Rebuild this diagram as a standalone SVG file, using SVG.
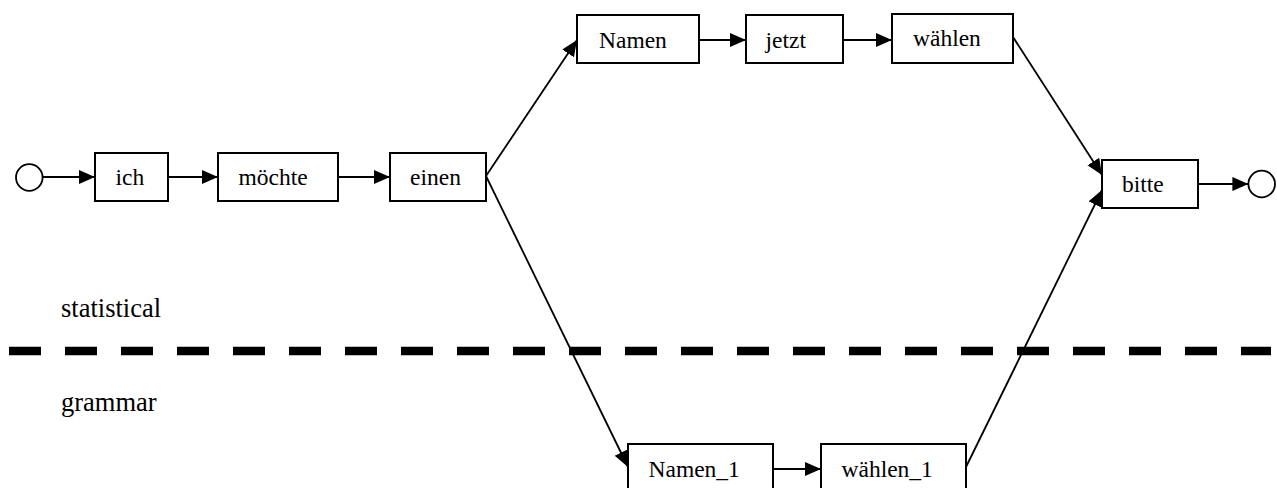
<svg xmlns="http://www.w3.org/2000/svg" width="1277" height="488" viewBox="0 0 1277 488">
  <style>
    .box { fill: #ffffff; stroke: #000000; stroke-width: 2; }
    .lbl { font-family: "Liberation Serif", "Times New Roman", serif; font-size: 23.5px; fill: #000000; }
    .side { font-family: "Liberation Serif", "Times New Roman", serif; font-size: 26.5px; fill: #000000; }
    .edge { fill: none; stroke: #000000; stroke-width: 1.8; marker-end: url(#arrow); }
    .term { fill: #ffffff; stroke: #000000; stroke-width: 1.8; }
  </style>
  <defs>
    <marker id="arrow" markerUnits="userSpaceOnUse" markerWidth="18" markerHeight="16" refX="16" refY="7" orient="auto">
      <path d="M0,0 L16,7 L0,14 z" fill="#000000"/>
    </marker>
  </defs>
  <rect width="1277" height="488" fill="#ffffff"/>

  <!-- separator between the two sources -->
  <line x1="9" y1="351" x2="1271" y2="351" stroke="#000000" stroke-width="8.5" stroke-dasharray="32 24"/>
  <text class="side" x="61" y="317">statistical</text>
  <text class="side" x="61" y="411">grammar</text>

  <g id="connectors">
    <path class="edge" d="M42.7,177 L95,177"/>
    <path class="edge" d="M168,177 L218,177"/>
    <path class="edge" d="M338,177 L390,177"/>
    <path class="edge" d="M486,176 L577,40"/>
    <path class="edge" d="M486,176 L628,467"/>
    <path class="edge" d="M699,40 L746,40"/>
    <path class="edge" d="M843,40 L892,40"/>
    <path class="edge" d="M1013,37 L1102,175"/>
    <path class="edge" d="M773,469 L821,469"/>
    <path class="edge" d="M966,467 L1102,190"/>
    <path class="edge" d="M1198,184 L1248.4,184"/>
  </g>

  <g id="start"><circle class="term" cx="29.3" cy="177.5" r="13.3"/></g>
  <g id="end"><circle class="term" cx="1261.7" cy="184" r="13.3"/></g>

  <g id="n-ich"><rect class="box" x="95" y="153" width="73" height="48"/><text class="lbl" x="115.5" y="185">ich</text></g>
  <g id="n-moechte"><rect class="box" x="218" y="153" width="120" height="48"/><text class="lbl" x="238.5" y="185">möchte</text></g>
  <g id="n-einen"><rect class="box" x="390" y="153" width="96" height="48"/><text class="lbl" x="410" y="185">einen</text></g>
  <g id="n-namen"><rect class="box" x="577" y="15" width="122" height="48"/><text class="lbl" x="599" y="48">Namen</text></g>
  <g id="n-jetzt"><rect class="box" x="746" y="15" width="97" height="48"/><text class="lbl" x="765.5" y="48">jetzt</text></g>
  <g id="n-waehlen"><rect class="box" x="892" y="14" width="121" height="49"/><text class="lbl" x="913" y="46">wählen</text></g>
  <g id="n-bitte"><rect class="box" x="1102" y="160" width="96" height="48"/><text class="lbl" x="1122" y="192">bitte</text></g>
  <g id="n-namen1"><rect class="box" x="628" y="444" width="145" height="48"/><text class="lbl" x="648.5" y="477">Namen_1</text></g>
  <g id="n-waehlen1"><rect class="box" x="821" y="444" width="145" height="48"/><text class="lbl" x="841.5" y="477">wählen_1</text></g>
</svg>
